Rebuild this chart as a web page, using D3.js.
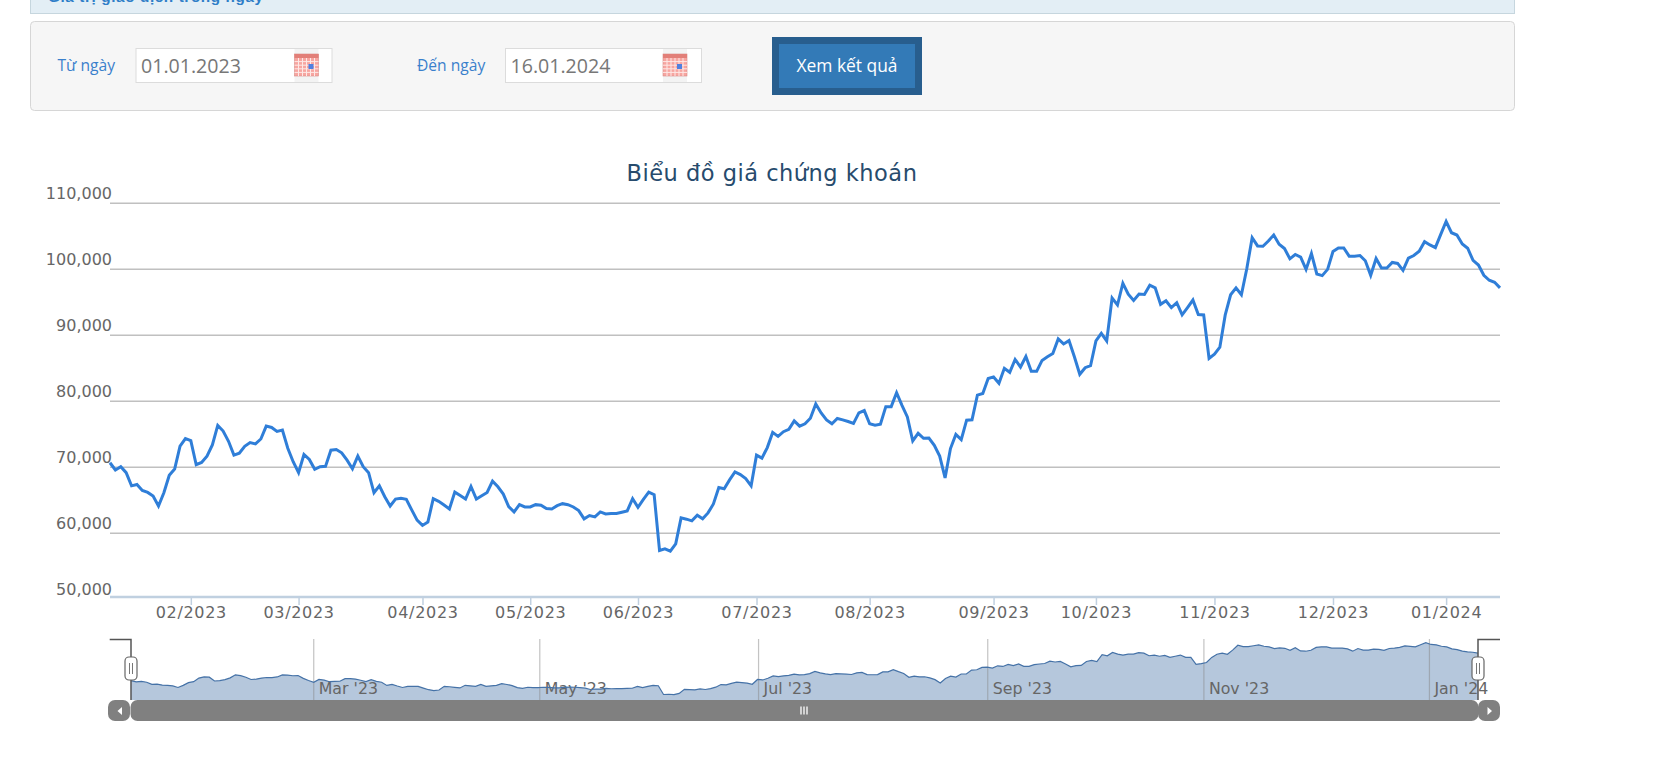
<!DOCTYPE html>
<html><head><meta charset="utf-8">
<script src="https://cdn.jsdelivr.net/npm/d3@7"></script>
<style>html,body{margin:0;padding:0;background:#fff;overflow:hidden}svg{display:block}text{font-family:"DejaVu Sans",sans-serif}</style>
</head><body><svg id="c" width="1663" height="758"></svg>
<script>
const chartTitle = "Biểu đồ giá chứng khoán";
const fromLabel = "Từ ngày", toLabel = "Đến ngày", fromDate = "01.01.2023", toDate = "16.01.2024", buttonLabel = "Xem kết quả";
const headerText = "Giá trị giao dịch trong ngày";
const prices = [
70600,69500,70000,69100,67100,67300,66400,66100,65550,64050,66050,68700,69650,73100,74250,73950,70300,70650,71600,73300,
76250,75400,73850,71750,72050,73100,73650,73450,74200,76150,75950,75350,75550,72800,70750,69100,71850,71100,69600,70000,
70050,72500,72600,72100,71000,69700,71600,70000,69100,66050,67100,65450,64050,65100,65200,65050,63450,61900,61100,
61600,65150,64750,64200,63600,66150,65650,65100,67000,65100,65600,66100,67800,66950,65850,63950,63150,64250,63900,63900,
64250,64150,63650,63600,64100,64400,64250,63900,63350,62100,62600,62400,63150,62850,62900,62900,63100,63300,65150,63850,
65050,66150,65750,57300,57550,57200,58300,62250,62050,61800,62650,62100,63000,64350,66850,66650,68000,69200,68800,68200,
67100,71750,71300,72900,75200,74600,75300,75650,76950,76150,76500,77350,79500,
78150,77100,76500,77300,77100,76850,76550,78150,78500,76500,76300,76450,79100,79100,81200,79300,77550,73900,75050,74300,
74350,73250,71600,68300,72750,74900,74100,77050,77100,80850,81100,83350,83600,82650,84900,84300,86250,85100,86700,84450,
84450,86100,86650,87150,89350,88600,89100,86650,84000,85000,85300,89050,90200,89050,
95550,94500,97800,96150,95200,96150,96100,
97500,97100,94600,95150,94100,94850,93000,94100,95250,93050,93000,86400,87050,88100,93000,96050,97100,96050,100000,104700,
103450,103400,104200,105100,103700,103050,101500,102150,101750,99900,102300,99200,98950,99900,102600,103150,103150,101900,
101900,102000,101200,99000,101550,100100,100100,100950,100800,99750,101600,102000,102650,104100,103600,103200,105200,107150,
105450,105100,103750,103100,101250,100550,99000,98250,97950,97100
];
const yTickValues = [50000,60000,70000,80000,90000,100000,110000];
const monthLabels = ["02/2023","03/2023","04/2023","05/2023","06/2023","07/2023","08/2023","09/2023","10/2023","11/2023","12/2023","01/2024"];
const monthSessions = [15,35,58,78,98,120,141,164,183,205,227,248];
const navLabels = ["Mar '23","May '23","Jul '23","Sep '23","Nov '23","Jan '24"];
const navSessions = [35,78.3,120.2,164.1,205.5,248.7];

const svg = d3.select("#c");
const idx = prices.map((_, i) => i);

// ---- page header
svg.append("rect").attr("x",30.5).attr("y",-10).attr("width",1484).attr("height",23.5).attr("fill","#e3eef5").attr("stroke","#c6d6de");
svg.append("text").text(headerText).attr("x",48).attr("y",2).attr("font-size",15.3).attr("font-weight","bold").attr("fill","#2f7ec8").style("font-family","'Liberation Sans'").attr("letter-spacing",0.6);
svg.append("rect").attr("x",30.5).attr("y",21.5).attr("width",1484).attr("height",89).attr("rx",4).attr("fill","#f6f6f6").attr("stroke","#d6d6d6").attr("stroke-width",1);

function field(labelTxt, lx, boxX, dateTxt, ix) {
  svg.append("text").text(labelTxt).attr("x",lx).attr("y",71).attr("font-size",15.6).attr("fill","#3a80cc").style("font-family","'Open Sans'");
  svg.append("rect").attr("x",boxX+.5).attr("y",48.5).attr("width",196).attr("height",34).attr("fill","#fff").attr("stroke","#dcdcdc");
  svg.append("text").text(dateTxt).attr("x",boxX+5.5).attr("y",73).attr("font-size",19.6).attr("fill","#777").style("font-family","'Open Sans'");
  const iy = 54;
  svg.append("rect").attr("x",ix).attr("y",49).attr("width",24).attr("height",33).attr("fill","#f3f3f3");
  svg.append("rect").attr("x",ix).attr("y",iy).attr("width",24).attr("height",22).attr("fill","#f7a5a0").attr("stroke","#d88a85").attr("stroke-width",.6);
  svg.append("rect").attr("x",ix).attr("y",iy).attr("width",24).attr("height",4).attr("fill","#e27f78");
  for (let k=1;k<6;k++) svg.append("line").attr("x1",ix+k*4).attr("x2",ix+k*4).attr("y1",iy+4).attr("y2",iy+22).attr("stroke","#fde8e6");
  for (let k=1;k<5;k++) svg.append("line").attr("x1",ix).attr("x2",ix+24).attr("y1",iy+4+k*3.6).attr("y2",iy+4+k*3.6).attr("stroke","#fde8e6");
  svg.append("rect").attr("x",ix+14).attr("y",iy+10).attr("width",5).attr("height",5).attr("fill","#5080e0");
}
field(fromLabel,57.5,135.5,fromDate,294.5);
field(toLabel,417,505,toDate,663);

svg.append("rect").attr("x",772).attr("y",37).attr("width",150).attr("height",58).attr("fill","#285e8e");
svg.append("rect").attr("x",779).attr("y",44).attr("width",136).attr("height",44).attr("fill","#337ab7");
svg.append("text").text(buttonLabel).attr("x",847).attr("y",72).attr("text-anchor","middle").attr("font-size",17.4).attr("fill","#fff").style("font-family","'Open Sans'");

// ---- main chart
const x = d3.scaleLinear().domain([0, prices.length-1]).range([110,1500]);
const y = d3.scaleLinear().domain([50000,110000]).range([598.7,202.7]);
const axisY = 597;

svg.append("text").text(chartTitle).attr("x",772).attr("y",180.5).attr("text-anchor","middle").attr("font-size",22.5).attr("fill","#274b6d").attr("letter-spacing",0.5).style("font-family","'DejaVu Sans'");

const gy = svg.append("g").attr("transform","translate(110,0)")
  .call(d3.axisLeft(y).tickValues(yTickValues).tickSize(0).tickFormat(d3.format(",")));
gy.select(".domain").remove();
gy.selectAll("text").attr("x",2).attr("dy",null).attr("y",-4.2).attr("font-size",16).attr("text-anchor","end").attr("fill","#666").style("font-family","'DejaVu Sans'");
gy.selectAll("g.tick").filter(d=>d>50000).append("line").attr("x1",0).attr("x2",1390).attr("stroke","#c0c0c0").attr("stroke-width",1.5);

const gx = svg.append("g").attr("transform",`translate(0,${axisY})`)
  .call(d3.axisBottom(x).tickValues(monthSessions).tickSize(8).tickPadding(0).tickFormat((d,i)=>monthLabels[i]));
gx.select(".domain").attr("stroke","#c0d0e0").attr("stroke-width",2.4).attr("d","M110,0H1500");
gx.selectAll("line").attr("stroke","#c0d0e0").attr("stroke-width",1.5);
gx.selectAll("text").attr("dy",null).attr("y",21).attr("font-size",16).attr("fill","#666").attr("letter-spacing",0.7).style("font-family","'DejaVu Sans'");

svg.append("path").attr("d", d3.line().x(i=>x(i)).y(i=>y(prices[i]))(idx))
  .attr("fill","none").attr("stroke","#2f7ed8").attr("stroke-width",3).attr("stroke-linejoin","miter");

// ---- navigator
const nx = d3.scaleLinear().domain([0, prices.length-1]).range([131,1478]);
const ny = d3.scaleLinear().domain([57200,107150]).range([694.6,642.7]);
const navBase = 700, navTop = 639;
svg.append("path").attr("d", d3.area().x(i=>nx(i)).y0(navBase).y1(i=>ny(prices[i]))(idx)).attr("fill","#4572a7").attr("fill-opacity",.4);
const gn = svg.append("g");
navSessions.forEach((s,i)=>{
  const px = nx(s);
  gn.append("line").attr("x1",px).attr("x2",px).attr("y1",navTop).attr("y2",navBase).attr("stroke","#888").attr("stroke-opacity",.5).attr("stroke-width",1.2);
  gn.append("text").text(navLabels[i]).attr("x",px+5).attr("y",693.5).attr("font-size",15.8).attr("fill","#666");
});
svg.append("path").attr("d", d3.line().x(i=>nx(i)).y(i=>ny(prices[i]))(idx)).attr("fill","none").attr("stroke","#4572a7").attr("stroke-width",1.2);

// scrollbar
svg.append("rect").attr("x",108).attr("y",700).attr("width",22).attr("height",21).attr("rx",7).attr("fill","#808080");
svg.append("rect").attr("x",130.5).attr("y",700).attr("width",1348).attr("height",21).attr("rx",7).attr("fill","#808080");
svg.append("rect").attr("x",1478).attr("y",700).attr("width",22).attr("height",21).attr("rx",7).attr("fill","#808080");
svg.append("path").attr("d","M117.5,711l4.5,-4v8z").attr("fill","#fff");
svg.append("path").attr("d","M1492,711l-4.5,-4v8z").attr("fill","#fff");
[801,804,807].forEach(px=>svg.append("line").attr("x1",px).attr("x2",px).attr("y1",706.5).attr("y2",714.5).attr("stroke","#fff").attr("stroke-width",1.3));

// handles
[[131,109.7],[1478,1500]].forEach(([hx,ox])=>{
  svg.append("path").attr("d",`M${ox},639.5H${hx}V700`).attr("fill","none").attr("stroke","#555").attr("stroke-width",1.5);
  svg.append("rect").attr("x",hx-6).attr("y",657).attr("width",12).attr("height",23).attr("rx",4).attr("fill","#fff").attr("stroke","#666").attr("stroke-width",1.2);
  [-1.5,1.5].forEach(d=>svg.append("line").attr("x1",hx+d).attr("x2",hx+d).attr("y1",663).attr("y2",674).attr("stroke","#777").attr("stroke-width",1));
});
</script></body></html>
